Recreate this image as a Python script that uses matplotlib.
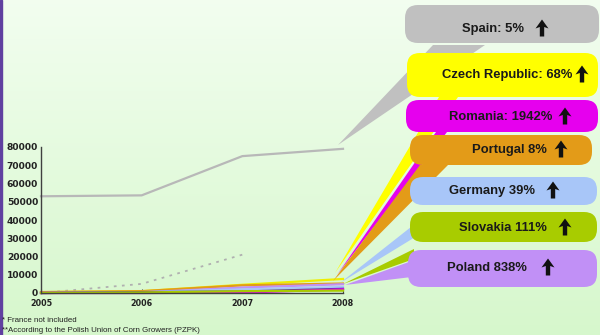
import matplotlib
matplotlib.use("Agg")
import matplotlib.pyplot as plt
import numpy as np
from matplotlib.patches import FancyBboxPatch, Polygon, Rectangle

years = [2005, 2006, 2007, 2008]
spain = [53000, 53500, 75000, 79000]
dotted_years = [2005, 2006, 2007]
dotted = [0, 5000, 21000]
czech = [500, 1000, 4500, 7700]
romania = [0, 0, 200, 2000]
portugal = [500, 1000, 4200, 5200]
germany = [0, 500, 2000, 3300]
slovakia = [0, 300, 1000, 1300]
poland = [0, 300, 3000, 4800]
other = [0, 500, 800, 2300]

labels = ["Spain: 5%", "Czech Republic: 68%", "Romania: 1942%", "Portugal 8%",
          "Germany 39%", "Slovakia 111%", "Poland 838%"]
colors = ["#c0c0c0", "#ffff00", "#e600ee", "#e39b18", "#a8c6f8", "#a8cc00", "#c190f6"]

fig = plt.figure(figsize=(6, 3.35), dpi=100)

# background gradient
bg = fig.add_axes([0, 0, 1, 1], zorder=-2)
grad = np.linspace(0, 1, 256).reshape(-1, 1)
top = np.array([0.95, 0.995, 0.94])
bot = np.array([0.84, 0.97, 0.80])
img = top + (bot - top) * grad[..., None]
bg.imshow(img, aspect="auto", extent=[0, 1, 0, 1])
bg.add_patch(Rectangle((0, 0), 0.003, 1, color="#6040a0"))
bg.set_axis_off()

ax = fig.add_axes([41 / 600, 1 - 293 / 335, 302 / 600, 146 / 335], zorder=1)
ax.patch.set_alpha(0)
ax.plot(years, spain, color="#b8b8b8", lw=1.6, clip_on=False)
ax.plot(dotted_years, dotted, color="#b0b0b0", lw=1.3, ls=(0, (1.5, 3)), clip_on=False)
series = [(czech, "#eeee00"), (portugal, "#e39b18"), (poland, "#c190f6"),
          (germany, "#a8c6f8"), (other, "#5030a0"), (romania, "#e600ee"),
          (slovakia, "#a8cc00")]
for vals, c in series:
    ax.plot(years, vals, color=c, lw=1.6, clip_on=False)

ax.set_xlim(2005, 2008)
ax.set_ylim(0, 80000)
ax.set_xticks(years)
ax.set_xticklabels([str(y) for y in years], fontsize=5.8, fontweight="bold", color="#222222")
ax.set_yticks(range(0, 80001, 10000))
ax.set_yticklabels([str(v) for v in range(0, 80001, 10000)], fontsize=6.6,
                   fontweight="bold", color="#222222")
ax.tick_params(axis="y", length=0, pad=2)
ax.tick_params(axis="x", length=3, direction="in", pad=4, color="#404040")
for s in ["top", "right"]:
    ax.spines[s].set_visible(False)
for s in ["left", "bottom"]:
    ax.spines[s].set_color("#404040")
    ax.spines[s].set_linewidth(1)

# callouts overlay in pixel coordinates
ov = fig.add_axes([0, 0, 1, 1], zorder=2)
ov.set_xlim(0, 600)
ov.set_ylim(335, 0)
ov.set_axis_off()

boxes = [(405, 5, 599, 43), (407, 53, 598, 97), (406, 100, 598, 132),
         (410, 135, 592, 165), (410, 177, 597, 205), (410, 212, 597, 242),
         (408, 250, 597, 287)]
tails = [[(338, 145), (433, 45), (485, 45)],
         [(335, 273), (439, 97), (458, 97)],
         [(337, 275), (436, 132), (447, 132)],
         [(333, 281), (420, 165), (448, 165)],
         [(340, 283), (430, 212), (430, 228)],
         [(343, 284), (414, 249), (414, 259)],
         [(345, 285), (420, 258), (420, 276)]]
text_pos = [(493, 29), (507, 75), (501, 117), (509, 150), (492, 191), (503, 228), (487, 268)]
arrow_x = [542, 582, 565, 561, 553, 565, 548]

for tl, c in zip(tails, colors):
    ov.add_patch(Polygon(tl, closed=True, facecolor=c, edgecolor="none", zorder=1))
for (x0, y0, x1, y1), c in zip(boxes, colors):
    ov.add_patch(FancyBboxPatch((x0, y0), x1 - x0, y1 - y0,
                                boxstyle="round,pad=0,rounding_size=13",
                                facecolor=c, edgecolor="none", zorder=2))


def up_arrow(cx, cy):
    # thick black up arrow drawn in pixel units
    t, b = cy - 8.5, cy + 8.5
    hw, sw, hl = 6.5, 2.2, 9
    pts = [(cx, t), (cx + hw, t + hl), (cx + sw, t + hl - 1.5), (cx + sw, b),
           (cx - sw, b), (cx - sw, t + hl - 1.5), (cx - hw, t + hl)]
    ov.add_patch(Polygon(pts, closed=True, facecolor="#111111", edgecolor="none", zorder=3))


for lab, (tx, ty), axx in zip(labels, text_pos, arrow_x):
    ov.text(tx, ty, lab, ha="center", va="center", fontsize=9.4, fontweight="bold",
            family="Liberation Sans", color="#1a1a1a", zorder=3)
    up_arrow(axx, ty - 1)

ov.text(2, 320, "* France not included", fontsize=5.7, family="Liberation Sans",
        color="#222222", va="center")
ov.text(2, 330, "**According to the Polish Union of Corn Growers (PZPK)", fontsize=5.7,
        family="Liberation Sans", color="#222222", va="center")

fig.savefig("out.png", dpi=100)
